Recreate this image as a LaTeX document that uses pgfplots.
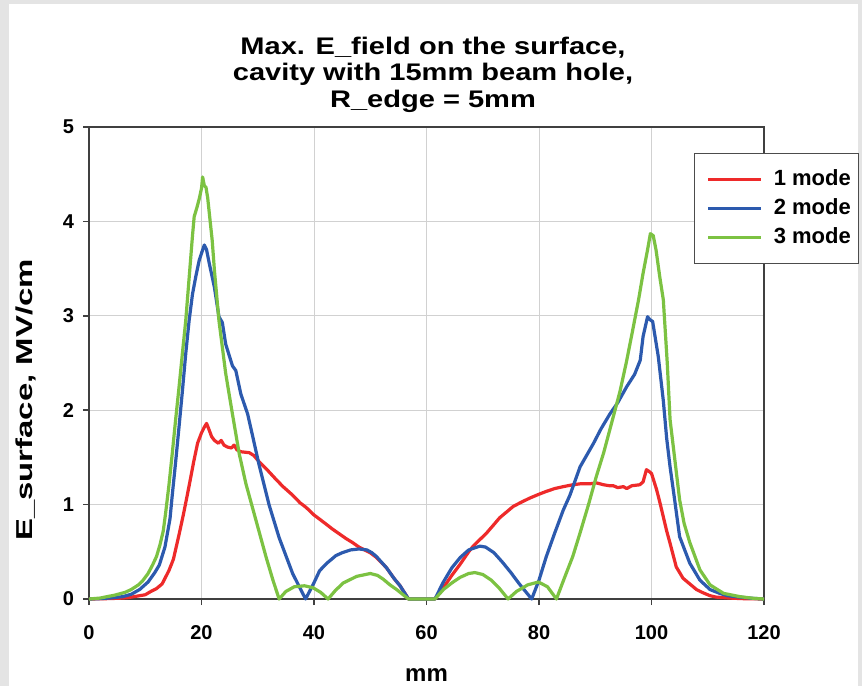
\documentclass[border=0pt]{standalone}
\usepackage{fontspec}
\setmainfont{Liberation Sans}
\usepackage{graphicx}
\usepackage{pgfplots}
\pgfplotsset{compat=1.18}

\definecolor{modered}{HTML}{EE2A2A}
\definecolor{modeblue}{HTML}{2C5AAE}
\definecolor{modegreen}{HTML}{7CC242}
\definecolor{framegray}{HTML}{E4E4E4}

\begin{document}
\begin{tikzpicture}
% page frame: 1 px of the reference = 0.5pt, origin at the plot's lower left corner
\useasboundingbox (-44.5pt,-43.5pt) rectangle (386.5pt,299.5pt);
\fill[framegray] (-44.5pt,-43.5pt) rectangle (386.5pt,299.5pt);
\fill[white] (-40pt,-43.5pt) rectangle (384.5pt,297.5pt);

\begin{axis}[
  at={(0pt,0pt)}, anchor=south west,
  width=337.5pt, height=236pt, scale only axis,
  xmin=0, xmax=120, ymin=0, ymax=5,
  xtick={0,20,...,120}, ytick={0,1,...,5},
  grid=major, grid style={black!18, line width=0.5pt},
  axis line style={black!75, line width=0.8pt},
  tick pos=left, tick align=outside, major tick length=3pt,
  tick style={black!75, line width=0.8pt},
  tick label style={font=\fontsize{10}{12}\selectfont\bfseries},
  /pgf/number format/assume math mode=true,
  xticklabel style={yshift=-6.5pt},
  yticklabel style={xshift=-1pt},
  xlabel={mm},
  xlabel style={font=\fontsize{12}{14}\selectfont\bfseries,
    at={(axis description cs:0.5,0)}, anchor=base, yshift=-41pt},
  ylabel={\scalebox{1.43}[1]{E\_surface, MV/cm}},
  ylabel style={font=\fontsize{11.5}{14}\selectfont\bfseries,
    at={(axis description cs:-0.0933,0.4216)}, anchor=center},
  clip=false,
  legend cell align=left,
  legend image code/.code={\path (0pt,0pt); \draw[#1] (2pt,0pt) -- (28.5pt,0pt);},
  legend style={at={(axis description cs:0.8963,0.9449)}, anchor=north west,
    font=\fontsize{11}{13}\selectfont\bfseries,
    draw=black!70, line width=0.6pt, fill=white,
    inner xsep=4pt, inner ysep=8pt, row sep=4.5pt, column sep=5.5pt,
    nodes={inner sep=0pt, text height=8pt, text depth=2pt}},
  every axis plot/.append style={line width=1.6pt, line join=round},
]

% 1 mode
\addplot[modered] coordinates {
 (0,0) (2,0.002) (4,0.005) (6,0.01) (7,0.015) (8,0.025) (10,0.045) (11,0.08)
 (12,0.11) (13,0.16) (14.2,0.3) (15,0.42) (16,0.68) (16.8,0.9) (17.8,1.2)
 (18.6,1.45) (19.3,1.65) (20,1.76) (20.5,1.82) (20.9,1.86) (21.3,1.8) (21.8,1.72)
 (22.3,1.68) (23,1.65) (23.5,1.68) (24,1.63) (24.6,1.61) (25.3,1.6) (25.8,1.63)
 (26.3,1.58) (27,1.56) (28.5,1.55) (29.3,1.52) (30.3,1.45) (31.5,1.38)
 (33.2,1.27) (34.5,1.19) (36.2,1.1) (37.5,1.02) (38.6,0.97) (40,0.89)
 (40.9,0.85) (42,0.8) (43.3,0.74) (44.5,0.69) (45.7,0.64) (46.8,0.6) (48,0.55)
 (49,0.52) (50,0.49) (51.1,0.44) (52.9,0.33) (54.2,0.22) (55.3,0.14) (56.8,0)
 (61.5,0) (63,0.12) (64.5,0.25) (66,0.37) (67.5,0.5) (68.3,0.56) (69.5,0.63)
 (70.7,0.7) (72,0.79) (73,0.86) (74,0.91) (75.4,0.98) (77,1.03) (78.4,1.07)
 (80,1.11) (81.3,1.14) (82.8,1.17) (84.3,1.19) (86,1.21) (87.3,1.22) (89,1.22)
 (90.2,1.23) (91.5,1.21) (92.5,1.2) (93.2,1.2) (94,1.18) (95,1.19) (95.6,1.17)
 (96.5,1.2) (97.9,1.21) (98.5,1.24) (99.1,1.37) (99.6,1.35) (100,1.33)
 (100.9,1.16) (101.5,1.02) (102.1,0.87) (102.7,0.72) (103.3,0.59) (104.4,0.34)
 (105.6,0.22) (106.8,0.16) (108,0.1) (109,0.07) (110.4,0.035) (111.5,0.02)
 (113.9,0.01) (116,0.004) (120,0)
};
\addlegendentry{1 mode}

% 2 mode
\addplot[modeblue] coordinates {
 (0,0) (2,0.004) (4,0.012) (6,0.025) (7.5,0.05) (9,0.1) (10.5,0.18) (11.7,0.28)
 (12.5,0.36) (13.5,0.55) (14.4,0.85) (14.8,1.1) (15.4,1.45) (16,1.82) (16.6,2.2)
 (17.2,2.6) (17.8,2.95) (18.4,3.23) (19,3.42) (19.6,3.59) (20.1,3.68) (20.5,3.75)
 (20.9,3.7) (21.4,3.55) (22.3,3.3) (23.1,2.99) (23.7,2.93) (24.3,2.7) (25.5,2.47)
 (26.1,2.42) (27,2.17) (28.2,1.96) (29,1.75) (30.2,1.43) (32,1) (33.8,0.65)
 (36.2,0.27) (38.5,0) (39.9,0.16) (41,0.3) (42.3,0.38) (43.9,0.46) (45,0.49)
 (46.5,0.52) (48,0.53) (49.4,0.52) (50.3,0.49) (51.1,0.45) (52.9,0.33)
 (54.2,0.22) (55.3,0.14) (56.8,0) (61.5,0) (63,0.18) (64.5,0.33) (66,0.44)
 (67.5,0.52) (69.5,0.56) (70.5,0.55) (72,0.49) (73.5,0.39) (75,0.28) (76.5,0.16)
 (78.7,0) (80,0.2) (81.3,0.45) (82.8,0.7) (84.3,0.94) (85.5,1.1) (87.3,1.4)
 (89.7,1.65) (91,1.8) (92.6,1.96) (94,2.08) (95.6,2.25) (97,2.38) (98,2.53)
 (98.5,2.78) (99.3,2.99) (99.7,2.96) (100.2,2.94) (101.2,2.57) (102.1,2.1)
 (102.7,1.7) (103.3,1.4) (104,1.1) (105,0.66) (106.8,0.38) (108.6,0.2)
 (110.4,0.1) (112.1,0.06) (113.5,0.035) (115.7,0.02) (118,0.007) (120,0)
};
\addlegendentry{2 mode}

% 3 mode
\addplot[modegreen] coordinates {
 (0,0) (2,0.01) (2.8,0.02) (4.5,0.04) (6.4,0.07) (7.5,0.1) (8.8,0.15) (9.5,0.19)
 (10.5,0.27) (11.3,0.36) (12,0.45) (12.6,0.57) (13.2,0.72) (13.6,0.9) (14.2,1.2)
 (14.8,1.54) (15.4,1.9) (16,2.24) (16.6,2.6) (17.2,2.95) (17.8,3.4) (18.4,3.85)
 (18.7,4.05) (19.2,4.15) (19.6,4.24) (20,4.35) (20.2,4.47) (20.5,4.38)
 (20.8,4.36) (21.1,4.25) (21.4,4.08) (21.9,3.8) (22.3,3.48) (23.1,2.95)
 (24.3,2.39) (25.5,1.96) (26.7,1.54) (27.9,1.22) (29.7,0.83) (31.5,0.44)
 (32.7,0.2) (33.8,0) (35,0.08) (36.5,0.13) (38.3,0.14) (39.8,0.12) (41.2,0.07)
 (42.5,0) (43.8,0.09) (45.2,0.17) (47.6,0.24) (50,0.27) (51.3,0.25) (52.3,0.21)
 (53.5,0.15) (54.7,0.1) (56.8,0) (61.5,0) (63,0.1) (64.5,0.17) (66,0.23)
 (67.5,0.27) (68.6,0.28) (70,0.26) (71.5,0.2) (73,0.11) (74.5,0) (76,0.08)
 (78,0.15) (79.9,0.18) (81.5,0.13) (83.1,0) (84.5,0.22) (86,0.45) (87.3,0.7)
 (88.8,1) (90.2,1.3) (91.5,1.55) (93.2,1.93) (94.4,2.2) (95.5,2.5) (96.5,2.8)
 (97.7,3.17) (98.5,3.45) (99.3,3.7) (99.8,3.87) (100.3,3.85) (100.8,3.7)
 (101.5,3.4) (102.1,3.17) (102.8,2.5) (103.3,1.9) (104.2,1.45) (105,1.05)
 (105.8,0.8) (106.8,0.6) (108.6,0.31) (110.4,0.15) (112.8,0.06) (115.7,0.025)
 (118,0.008) (120,0)
};
\addlegendentry{3 mode}
\end{axis}

% three title lines, baselines
\begin{scope}[every node/.style={font=\fontsize{12}{14}\selectfont\bfseries, anchor=base, inner sep=0pt}]
\node at (172pt,272pt) {\scalebox{1.21}[1]{Max. E\_field on the surface,}};
\node at (172pt,259pt) {\scalebox{1.21}[1]{cavity with 15mm beam hole,}};
\node at (172pt,245.5pt) {\scalebox{1.21}[1]{R\_edge = 5mm}};
\end{scope}
\end{tikzpicture}
\end{document}
